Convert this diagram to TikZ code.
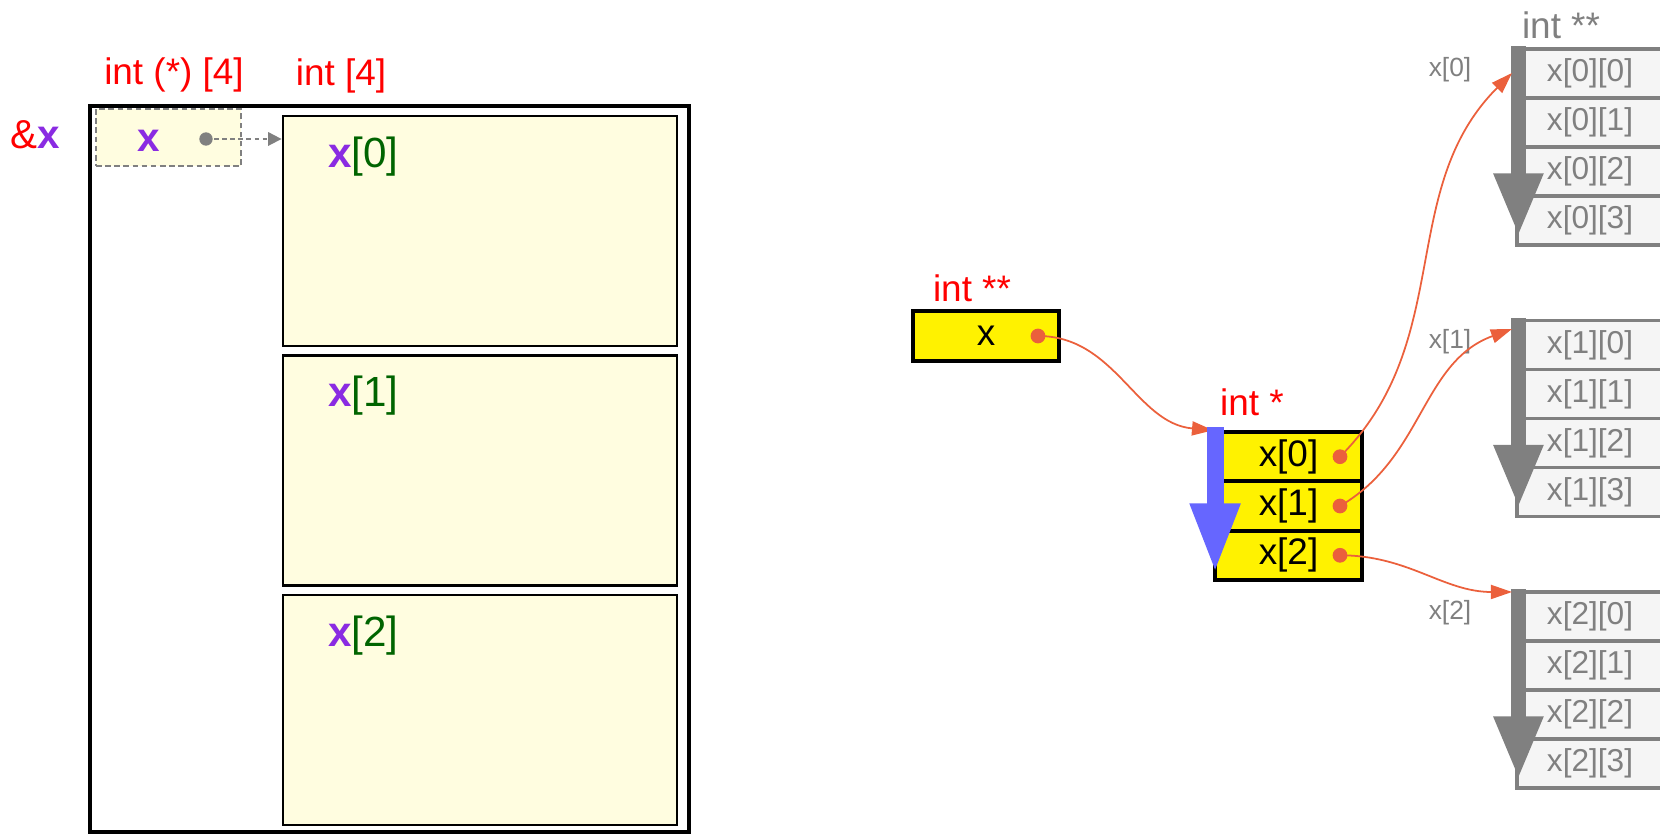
\documentclass[tikz,border=0pt]{standalone}
\usepackage{fontspec}
\setmainfont{Liberation Sans}
\usepackage{xcolor}
\usepackage{tikz}
\usetikzlibrary{positioning,arrows.meta,calc}
\definecolor{ptrred}{RGB}{255,0,0}
\definecolor{ptrorange}{RGB}{235,96,60}
\definecolor{ptrblue}{RGB}{102,102,255}
\definecolor{ptrgray}{RGB}{128,128,128}
\definecolor{cellgray}{RGB}{245,245,245}
\definecolor{memyellow}{RGB}{255,253,224}
\definecolor{varpurple}{RGB}{138,43,226}
\definecolor{idxgreen}{RGB}{0,100,0}
\newcommand{\fsz}[1]{\fontsize{#1}{#1}\selectfont}

\begin{document}
\begin{tikzpicture}[
  typelabel/.style={text=ptrred,font=\fsz{10.5pt},inner sep=0pt},
  memrow/.style={draw=black,line width=0.8pt,fill=memyellow,minimum width=3.94cm,minimum height=2.3cm,inner sep=0pt},
  ptrcell/.style={draw=black,line width=1.1pt,fill=yellow,minimum width=1.47cm,minimum height=0.49cm,inner sep=0pt,font=\fsz{10.5pt}},
  rowcell/.style={draw=ptrgray,line width=0.9pt,fill=cellgray,text=ptrgray,minimum width=1.46cm,minimum height=0.49cm,inner sep=0pt,font=\fsz{9pt}},
  pdot/.style={circle,fill=ptrorange,inner sep=0pt,minimum size=4.2pt},
  plink/.style={-{Triangle[length=6pt,width=4pt]},ptrorange,line width=0.5pt},
]
  \useasboundingbox (0,0) rectangle (16.6,8.35);
  \clip (0,0) rectangle (16.6,8.35);
  % --- left: the array x as one block of memory
  \node[draw=black,line width=1.4pt,minimum width=5.99cm,minimum height=7.26cm,inner sep=0pt] (blk) at (3.895,3.66) {};
  \foreach \i in {0,1,2} {
    \node[memrow] (row\i) at (4.80,6.04-2.395*\i) {};
    \node[anchor=west,font=\fsz{12pt},inner sep=0pt] (rowlbl\i) at ($(row\i.north west)+(0.46,-0.42)$)
      {\textcolor{varpurple}{\textbf{x}}\textcolor{idxgreen}{[\i]}};
  }
  % x itself, seen as a pointer to its first row
  \node[draw=ptrgray,dash pattern=on 1.6pt off 1pt,line width=0.6pt,fill=memyellow,minimum width=1.45cm,minimum height=0.57cm,inner sep=0pt] (var) at (1.685,6.975) {};
  \node[font=\fsz{11.5pt}\bfseries,text=varpurple,inner sep=0pt] (varx) at (1.49,6.94) {x};
  \node[circle,fill=ptrgray,inner sep=0pt,minimum size=3.8pt] (vardot) at (2.06,6.96) {};
  \draw[ptrgray,dash pattern=on 1.3pt off 1pt,line width=0.5pt,-{Triangle[length=3.8pt,width=3.8pt]}] (vardot.center) -- (vardot -| row0.west);
  \node[font=\fsz{11.5pt},inner sep=0pt] (addr) at (0.35,7.00) {\textcolor{ptrred}{\&}\textcolor{varpurple}{\textbf{x}}};
  \node[typelabel] (tvar) at (1.74,7.60) {int (*) [4]};
  \node[typelabel] (trow) at (3.41,7.59) {int [4]};
  % --- right: pointer to pointer
  \node[ptrcell,minimum width=1.46cm,minimum height=0.50cm] (pp) at (9.86,4.99) {x};
  \node[pdot] (ppdot) at (10.38,4.99) {};
  \node[typelabel] (tpp) at (9.72,5.47) {int **};
  \foreach \i in {0,1,2} {
    \node[ptrcell] (p\i) at (12.885,3.783-0.493*\i) {x[\i]};
    \node[pdot] (pd\i) at (13.40,3.783-0.493*\i) {};
  }
  \node[typelabel] (tp) at (12.52,4.33) {int *};
  % rows of ints, one per pointer
  \foreach \k/\top in {0/7.86,1/5.145,2/2.43} {
    \foreach \j in {0,...,3}
      \node[rowcell] (c\k\j) at (15.90,\top-0.245-0.49*\j) {x[\k][\j]};
    \draw[ptrgray,line width=4.3pt,-{Triangle[length=18pt,width=13pt]}] ($(c\k0.north west)+(0.03,0.01)$) -- ($(c\k3.south west)+(0.03,0.10)$);
    \node[font=\fsz{7.5pt},text=ptrgray,inner sep=0pt] (clbl\k) at (14.50,\top-0.21) {x[\k]};
  }
  \node[font=\fsz{10.5pt},text=ptrgray,inner sep=0pt] (tgray) at (15.61,8.10) {int **};
  \coordinate (in0) at (15.12,7.62);
  \coordinate (in1) at (15.12,5.06);
  \coordinate (in2) at (15.12,2.43);
  % links
  \draw[plink] (ppdot.center) to[out=0,in=175] (p0.north west);
  \draw[plink] (pd0.center) to[out=45,in=225] (in0);
  \draw[plink] (pd1.center) to[out=30,in=200] (in1);
  \draw[plink] (pd2.center) to[out=0,in=180] (in2);
  % direction of p[i]
  \draw[ptrblue,line width=4.8pt,-{Triangle[length=20pt,width=13pt]}] ($(p0.north west)+(0.02,0.03)$) -- ($(p2.south west)+(0.02,0.08)$);
\end{tikzpicture}
\end{document}
